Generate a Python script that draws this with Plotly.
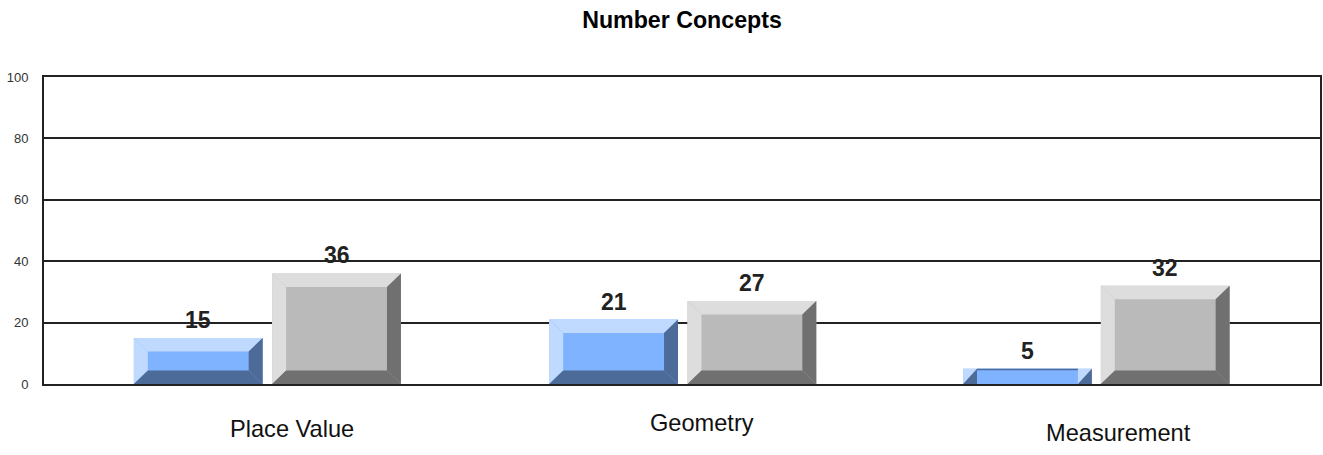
import plotly.graph_objects as go

categories = ["Place Value", "Geometry", "Measurement"]
series_a = [15, 21, 5]
series_b = [36, 27, 32]
y_ticks = [0, 20, 40, 60, 80, 100]
title = "Number Concepts"

W, H = 1323, 455
L, R, T, B = 44, 1322, 77, 384
PX_Y = (B - T) / 100.0          # pixels per y unit
BAR_W = 129
BEVEL_X = 14
BEVEL_Y = 13.5 / PX_Y

a_centers = [198.5, 614.5, 1029]
b_centers = [337, 753, 1167]
# category label placement (in px from the page corner)
cat_x = [292, 703, 1120]
cat_y = [429, 423, 433]

BLUE = dict(face="#80B3FF", light="#BFD9FF", dark="#4D6B99")
GRAY = dict(face="#BABABA", light="#DDDDDD", dark="#707070")

fig = go.Figure()
shapes = []


def poly(pts, color):
    path = "M " + " L ".join(f"{x},{y}" for x, y in pts) + " Z"
    return dict(type="path", path=path, xref="x", yref="y", fillcolor=color,
                line=dict(width=0), layer="above")


def bevel(cx, v, pal):
    x0, x1 = cx - BAR_W / 2, cx + BAR_W / 2
    ix0, ix1 = x0 + BEVEL_X, x1 - BEVEL_X
    out = []
    if v > 2 * BEVEL_Y:
        ib, it = BEVEL_Y, v - BEVEL_Y
        out.append(poly([(x0, v), (x1, v), (ix1, it), (ix0, it)], pal["light"]))
        out.append(poly([(x0, v), (ix0, it), (ix0, ib), (x0, 0)], pal["light"]))
        out.append(poly([(x1, v), (x1, 0), (ix1, ib), (ix1, it)], pal["dark"]))
        out.append(poly([(x0, 0), (ix0, ib), (ix1, ib), (x1, 0)], pal["dark"]))
    else:
        out.append(poly([(x0, v), (x1, v), (x1, 0), (x0, 0)], pal["light"]))
        out.append(poly([(x0, 0), (ix0, 0), (ix0, v)], pal["dark"]))
        out.append(poly([(ix1, 0), (x1, 0), (x1, v)], pal["dark"]))
        out.append(poly([(ix0, v), (ix1, v), (ix1, 0), (ix0, 0)], pal["face"]))
        out.append(poly([(ix0, v), (ix1, v), (ix1, v - 0.5), (ix0, v - 0.5)], pal["dark"]))
    return out


for centers, vals, pal, name in [(a_centers, series_a, BLUE, "A"), (b_centers, series_b, GRAY, "B")]:
    fig.add_trace(go.Bar(x=centers, y=vals, width=BAR_W, name=name,
                         marker=dict(color=pal["face"], line=dict(width=0)),
                         hoverinfo="y", showlegend=False))
    for c, v in zip(centers, vals):
        shapes.extend(bevel(c, v, pal))

annotations = []
for centers, vals in [(a_centers, series_a), (b_centers, series_b)]:
    for c, v in zip(centers, vals):
        annotations.append(dict(x=c, y=v, xref="x", yref="y", text=f"<b>{v}</b>", showarrow=False,
                                yanchor="middle", yshift=18,
                                font=dict(family="Liberation Sans", size=23, color="#222222")))
for name, px, py in zip(categories, cat_x, cat_y):
    annotations.append(dict(x=(px - L) / (R - L), y=(B - py) / (B - T), xref="paper", yref="paper",
                            xanchor="center", yanchor="middle",
                            text=name, showarrow=False,
                            font=dict(family="Liberation Sans", size=23.6, color="#111111")))

fig.update_layout(
    width=W, height=H, autosize=False, barmode="overlay",
    paper_bgcolor="white", plot_bgcolor="white",
    margin=dict(l=L, r=W - R, t=T, b=H - B, pad=0),
    title=dict(text=f"<b>{title}</b>", x=682 / W, xanchor="center", y=1 - 20 / H, yanchor="middle",
               font=dict(family="Liberation Sans", size=23.2, color="#000000")),
    xaxis=dict(range=[L, R], showgrid=False, showticklabels=False, ticks="",
               showline=True, linecolor="#222222", linewidth=2, mirror=True, zeroline=False),
    yaxis=dict(range=[0, 100], tickvals=y_ticks, ticks="", showgrid=True, gridcolor="#222222", gridwidth=2,
               showline=True, linecolor="#222222", linewidth=2, mirror=True, zeroline=False,
               ticklabelstandoff=11,
               tickfont=dict(family="Liberation Sans", size=13, color="#333333")),
    shapes=shapes, annotations=annotations,
)
fig.write_html("out.html", config=dict(displayModeBar=False),
               post_script="document.body.style.margin='0';document.documentElement.style.overflow='hidden';")
